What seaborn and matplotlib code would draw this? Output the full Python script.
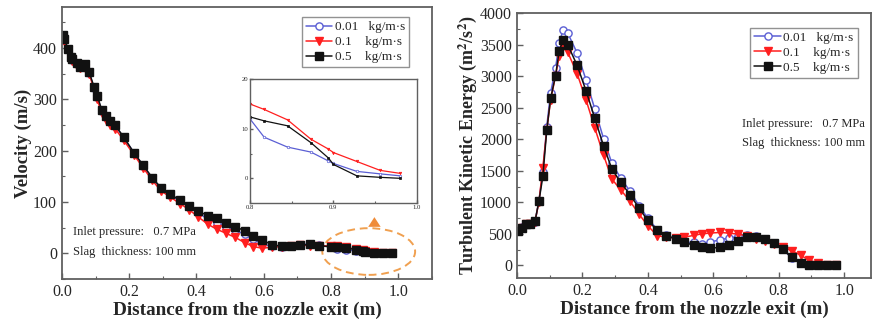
import numpy as np
import pandas as pd
import matplotlib
matplotlib.use("Agg")
import matplotlib.pyplot as plt
from matplotlib.patches import Ellipse
from matplotlib.ticker import MultipleLocator
import seaborn as sns

# ---------------- data ----------------
series_labels = ["0.01   kg/m\u00b7s", "0.1    kg/m\u00b7s", "0.5    kg/m\u00b7s"]

x_vel = [0.002, 0.005, 0.019, 0.027, 0.031, 0.044, 0.055, 0.068, 0.081, 0.095,
         0.105, 0.118, 0.131, 0.143, 0.158, 0.184, 0.214, 0.241, 0.269, 0.294,
         0.321, 0.351, 0.378, 0.405, 0.433, 0.460, 0.488, 0.515, 0.543, 0.569,
         0.596, 0.623, 0.653, 0.680, 0.708, 0.737, 0.765, 0.800, 0.817, 0.845,
         0.873, 0.894, 0.900, 0.928, 0.956, 0.980]
vel_001 = [423, 416, 398, 380, 376, 370, 364, 366, 351, 323,
           305, 278, 266, 257, 249, 225, 196, 171, 146, 127,
           114, 102, 91, 80, 66, 60, 52, 45, 37, 27,
           18, 14, 13, 14, 16, 19, 17, 12.0, 8.3, 6.3,
           5.3, 3.5, 3.0, 1.4, 0.9, 0.5]
vel_01 = [420, 414, 396, 378, 374, 366, 361, 362, 350, 320,
          300, 273, 260, 250, 243, 220, 192, 167, 142, 122,
          110, 97, 85, 71, 57, 47, 39, 31, 21, 13,
          10, 12, 13, 14, 16, 15, 14, 15.0, 13.9, 11.8,
          7.9, 5.9, 5.2, 3.4, 1.6, 1.0]
vel_05 = [425, 418, 399, 382, 378, 371, 364, 368, 353, 325,
          307, 280, 268, 258, 250, 226, 196, 172, 147, 128,
          115, 104, 93, 83, 73, 68, 60, 52, 44, 34,
          26, 17, 14, 14, 16, 17.5, 15, 12.4, 11.6, 10.6,
          7.2, 4.1, 2.8, 0.5, 0.2, 0.0]

x_tke = [0.003, 0.016, 0.029, 0.041, 0.055, 0.067, 0.079, 0.091, 0.103, 0.118,
         0.129, 0.141, 0.155, 0.184, 0.211, 0.238, 0.265, 0.290, 0.317, 0.346,
         0.373, 0.400, 0.429, 0.457, 0.485, 0.512, 0.540, 0.566, 0.591, 0.620,
         0.647, 0.675, 0.703, 0.731, 0.759, 0.786, 0.812, 0.840, 0.868, 0.892,
         0.921, 0.949, 0.975]
tke_001 = [545, 605, 660, 660, 690, 1020, 1480, 2200, 2740, 3130,
           3520, 3735, 3683, 3366, 2943, 2478, 2003, 1622, 1384, 1173,
           946, 750, 565, 480, 417, 365, 365, 343, 370, 407,
           433, 460, 486, 460, 423, 354, 259, 116, 37, 0,
           0, 0, 0]
tke_01 = [540, 600, 660, 660, 690, 1010, 1543, 2150, 2626, 3007,
          3313, 3471, 3382, 3038, 2626, 2177, 1744, 1369, 1200, 1015,
          814, 629, 470, 449, 433, 449, 476, 502, 513, 523,
          513, 497, 470, 417, 380, 343, 291, 235, 160, 85,
          38, 0, 0]
tke_05 = [540, 600, 660, 660, 697, 1014, 1410, 2140, 2650, 3010,
          3400, 3570, 3500, 3170, 2770, 2330, 1890, 1530, 1316, 1120,
          909, 713, 555, 470, 423, 370, 317, 285, 275, 285,
          328, 391, 444, 449, 423, 354, 259, 127, 37, 0,
          0, 0, 0]

# ---------------- style ----------------
sns.set_style("ticks")
serif = ["Liberation Serif", "DejaVu Serif"]
plt.rcParams["font.family"] = serif
plt.rcParams["mathtext.fontset"] = "stix"

colors = ["#5b5fd4", "#ff1f1f", "#111111"]
markers = ["o", "v", "s"]
faces = ["white", "#ff1f1f", "#111111"]
spine_c = "#606060"

fig = plt.figure(figsize=(8.74, 3.26), dpi=100)
axL = fig.add_axes([0.0709, 0.1442, 0.4233, 0.8343])
axR = fig.add_axes([0.5915, 0.147, 0.405, 0.813])


def draw(ax, x, ys, ms=5.2, mew=1.0, lw=1.1, with_markers=True):
    hs = []
    for y, c, m, f, lab in zip(ys, colors, markers, faces, series_labels):
        df = pd.DataFrame({"x": x, "y": y})
        kw = dict(marker=m, markersize=ms, markerfacecolor=f,
                  markeredgecolor=c, markeredgewidth=mew) if with_markers else {}
        sns.lineplot(data=df, x="x", y="y", ax=ax, color=c, lw=lw,
                     label=lab, sort=False, legend=False, **kw)
        hs.append(ax.lines[-1])
    return hs


def style(ax, lab_size=11.5):
    for s in ax.spines.values():
        s.set_color(spine_c)
        s.set_linewidth(1.3)
    ax.tick_params(which="both", direction="in", color=spine_c,
                   labelsize=lab_size, top=False, right=False)
    ax.tick_params(which="major", length=4, width=1)
    ax.tick_params(which="minor", length=2.5, width=0.8)


legend_kw = dict(fontsize=9.5, frameon=True, fancybox=False, edgecolor="#777777",
                 handlelength=2.0, handletextpad=0.2, borderpad=0.3,
                 labelspacing=0.2, borderaxespad=0.2)

# ----- left panel -----
hL = draw(axL, x_vel, [vel_001, vel_01, vel_05])
axL.set_xlim(0, 1.1)
axL.set_ylim(-50, 480)
axL.xaxis.set_minor_locator(MultipleLocator(0.1))
axL.yaxis.set_major_locator(MultipleLocator(100))
axL.yaxis.set_minor_locator(MultipleLocator(50))
axL.set_xticks([0, 0.2, 0.4, 0.6, 0.8, 1.0])
axL.set_xticklabels(["0.0", "0.2", "0.4", "0.6", "0.8", "1.0"])
style(axL)
axL.set_xlabel("Distance from the nozzle exit (m)", fontsize=13.8, fontweight="bold", labelpad=1)
axL.set_ylabel("Velocity (m/s)", fontsize=13.5, fontweight="bold", labelpad=1)
legL = axL.legend(handles=hL, loc="upper right", bbox_to_anchor=(0.945, 0.972), **legend_kw)
legL.get_frame().set_linewidth(1.0)
axL.text(0.03, 0.16, "Inlet pressure:   0.7 MPa", transform=axL.transAxes, fontsize=9)
axL.text(0.03, 0.09, "Slag  thickness: 100 mm", transform=axL.transAxes, fontsize=9)

orange = "#f0a050"
axL.add_patch(Ellipse((0.912, 3.5), 0.276, 91, fill=False, ec=orange,
                      lw=1.4, ls=(0, (4, 2.5))))
axL.annotate("", xy=(0.929, 76), xytext=(0.929, 52),
             arrowprops=dict(arrowstyle="simple,head_width=0.9,head_length=0.7,tail_width=0.45",
                             color="#ef8c3a", lw=0))

# inset
axI = fig.add_axes([0.286, 0.377, 0.191, 0.380])
draw(axI, x_vel, [vel_001, vel_01, vel_05], ms=1.8, mew=0.5, lw=0.9)
axI.set_xlim(0.8, 1.0)
axI.set_ylim(-5, 20)
axI.set_xticks([0.8, 0.9, 1.0])
axI.set_xticklabels(["0.8", "0.9", "1.0"])
axI.set_yticks([0, 10, 20])
axI.xaxis.set_minor_locator(MultipleLocator(0.05))
axI.yaxis.set_minor_locator(MultipleLocator(5))
style(axI, lab_size=4.8)
axI.tick_params(which="major", length=2, pad=1.5)
axI.tick_params(which="minor", length=1.2)
for s in axI.spines.values():
    s.set_linewidth(1.0)
axI.set_xlabel("")
axI.set_ylabel("")

# ----- right panel -----
hR = draw(axR, x_tke, [tke_001, tke_01, tke_05])
axR.set_xlim(0, 1.082)
axR.set_ylim(-200, 4000)
axR.set_xticks([0, 0.2, 0.4, 0.6, 0.8, 1.0])
axR.set_xticklabels(["0.0", "0.2", "0.4", "0.6", "0.8", "1.0"])
axR.xaxis.set_minor_locator(MultipleLocator(0.1))
axR.yaxis.set_major_locator(MultipleLocator(500))
axR.yaxis.set_minor_locator(MultipleLocator(250))
style(axR)
axR.set_xlabel("Distance from the nozzle exit (m)", fontsize=13.8, fontweight="bold", labelpad=1)
axR.set_ylabel(r"Turbulent Kinetic Energy (m$^{\mathbf{2}}$/s$^{\mathbf{2}}$)",
               fontsize=13, fontweight="bold", labelpad=1)
legR = axR.legend(handles=hR, loc="upper right", bbox_to_anchor=(0.97, 0.955), **legend_kw)
legR.get_frame().set_linewidth(1.0)
axR.text(0.635, 0.57, "Inlet pressure:   0.7 MPa", transform=axR.transAxes, fontsize=9)
axR.text(0.635, 0.50, "Slag  thickness: 100 mm", transform=axR.transAxes, fontsize=9)

fig.savefig("out.png", dpi=100)
